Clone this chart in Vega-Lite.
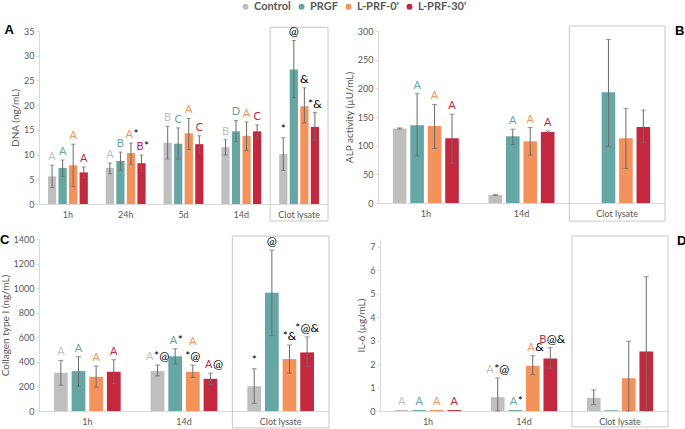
{
 "$schema": "https://vega.github.io/schema/vega-lite/v6.json",
 "padding": {"left": 0, "top": 1, "right": 0, "bottom": 0},
 "datasets": {
  "dna": [
   {"group":"1h","series":"Control","v":5.6,"lo":3.35,"hi":7.85,"letter":"A","sym":""},
   {"group":"1h","series":"PRGF","v":7.3,"lo":5.6,"hi":8.9,"letter":"A","sym":""},
   {"group":"1h","series":"L-PRF-0'","v":7.85,"lo":3.5,"hi":12.1,"letter":"A","sym":""},
   {"group":"1h","series":"L-PRF-30'","v":6.4,"lo":5.3,"hi":7.5,"letter":"A","sym":""},
   {"group":"24h","series":"Control","v":7.3,"lo":6.1,"hi":8.3,"letter":"A","sym":""},
   {"group":"24h","series":"PRGF","v":8.7,"lo":6.8,"hi":10.5,"letter":"B","sym":""},
   {"group":"24h","series":"L-PRF-0'","v":10.3,"lo":8.05,"hi":12.3,"letter":"A","sym":"*"},
   {"group":"24h","series":"L-PRF-30'","v":8.25,"lo":6.6,"hi":9.9,"letter":"B","sym":"*"},
   {"group":"5d","series":"Control","v":12.4,"lo":9.1,"hi":15.7,"letter":"B","sym":""},
   {"group":"5d","series":"PRGF","v":12.2,"lo":9.1,"hi":15.4,"letter":"C","sym":""},
   {"group":"5d","series":"L-PRF-0'","v":14.3,"lo":11.0,"hi":17.3,"letter":"A","sym":""},
   {"group":"5d","series":"L-PRF-30'","v":12.1,"lo":10.2,"hi":13.8,"letter":"C","sym":""},
   {"group":"14d","series":"Control","v":11.5,"lo":9.9,"hi":13.0,"letter":"B","sym":""},
   {"group":"14d","series":"PRGF","v":14.7,"lo":12.6,"hi":16.9,"letter":"D","sym":""},
   {"group":"14d","series":"L-PRF-0'","v":13.8,"lo":10.8,"hi":16.6,"letter":"A","sym":""},
   {"group":"14d","series":"L-PRF-30'","v":14.7,"lo":13.3,"hi":16.0,"letter":"C","sym":""},
   {"group":"Clot lysate","series":"Control","v":10.1,"lo":6.8,"hi":13.4,"letter":"","sym":"*"},
   {"group":"Clot lysate","series":"PRGF","v":27.2,"lo":21.5,"hi":33.1,"letter":"","sym":"@"},
   {"group":"Clot lysate","series":"L-PRF-0'","v":19.8,"lo":16.4,"hi":23.5,"letter":"","sym":"&"},
   {"group":"Clot lysate","series":"L-PRF-30'","v":15.6,"lo":12.9,"hi":18.5,"letter":"","sym":"*&"}
  ],
  "alp": [
   {"group":"1h","series":"Control","v":130,"lo":129,"hi":131,"letter":"","sym":""},
   {"group":"1h","series":"PRGF","v":135.7,"lo":82,"hi":190.6,"letter":"A","sym":""},
   {"group":"1h","series":"L-PRF-0'","v":134.5,"lo":95.3,"hi":172,"letter":"A","sym":""},
   {"group":"1h","series":"L-PRF-30'","v":112.9,"lo":69.6,"hi":155,"letter":"A","sym":""},
   {"group":"14d","series":"Control","v":14,"lo":13,"hi":15,"letter":"","sym":""},
   {"group":"14d","series":"PRGF","v":116.4,"lo":101.8,"hi":128.7,"letter":"A","sym":""},
   {"group":"14d","series":"L-PRF-0'","v":107.6,"lo":83.6,"hi":131.6,"letter":"A","sym":""},
   {"group":"14d","series":"L-PRF-30'","v":124,"lo":122.2,"hi":125.7,"letter":"A","sym":""},
   {"group":"Clot lysate","series":"PRGF","v":193,"lo":98.2,"hi":285.4,"letter":"","sym":""},
   {"group":"Clot lysate","series":"L-PRF-0'","v":112.9,"lo":60.2,"hi":165,"letter":"","sym":""},
   {"group":"Clot lysate","series":"L-PRF-30'","v":132.7,"lo":105.3,"hi":162,"letter":"","sym":""}
  ],
  "col": [
   {"group":"1h","series":"Control","v":311,"lo":210,"hi":412,"letter":"A","sym":""},
   {"group":"1h","series":"PRGF","v":325,"lo":202,"hi":442,"letter":"A","sym":""},
   {"group":"1h","series":"L-PRF-0'","v":278,"lo":194,"hi":366,"letter":"A","sym":""},
   {"group":"1h","series":"L-PRF-30'","v":319,"lo":224,"hi":417,"letter":"A","sym":""},
   {"group":"14d","series":"Control","v":325,"lo":286,"hi":374,"letter":"A","sym":"*@"},
   {"group":"14d","series":"PRGF","v":445,"lo":382,"hi":507,"letter":"A","sym":"*"},
   {"group":"14d","series":"L-PRF-0'","v":319,"lo":273,"hi":374,"letter":"A","sym":"*@"},
   {"group":"14d","series":"L-PRF-30'","v":262,"lo":213,"hi":308,"letter":"A","sym":"@"},
   {"group":"Clot lysate","series":"Control","v":202,"lo":63,"hi":344,"letter":"","sym":"*"},
   {"group":"Clot lysate","series":"PRGF","v":963,"lo":614,"hi":1310,"letter":"","sym":"@"},
   {"group":"Clot lysate","series":"L-PRF-0'","v":423,"lo":308,"hi":537,"letter":"","sym":"*&"},
   {"group":"Clot lysate","series":"L-PRF-30'","v":477,"lo":360,"hi":603,"letter":"","sym":"*@&"}
  ],
  "il6": [
   {"group":"1h","series":"Control","v":0.04,"lo":0.04,"hi":0.04,"letter":"A","sym":""},
   {"group":"1h","series":"PRGF","v":0.04,"lo":0.04,"hi":0.04,"letter":"A","sym":""},
   {"group":"1h","series":"L-PRF-0'","v":0.04,"lo":0.04,"hi":0.04,"letter":"A","sym":""},
   {"group":"1h","series":"L-PRF-30'","v":0.04,"lo":0.04,"hi":0.04,"letter":"A","sym":""},
   {"group":"14d","series":"Control","v":0.59,"lo":0,"hi":1.41,"letter":"A","sym":"*@"},
   {"group":"14d","series":"PRGF","v":0.04,"lo":0.04,"hi":0.04,"letter":"A","sym":"*"},
   {"group":"14d","series":"L-PRF-0'","v":1.93,"lo":1.55,"hi":2.36,"letter":"A","sym":"&"},
   {"group":"14d","series":"L-PRF-30'","v":2.24,"lo":1.83,"hi":2.7,"letter":"B","sym":"@&"},
   {"group":"Clot lysate","series":"Control","v":0.56,"lo":0.27,"hi":0.9,"letter":"","sym":""},
   {"group":"Clot lysate","series":"PRGF","v":0.03,"lo":0.03,"hi":0.03,"letter":"","sym":""},
   {"group":"Clot lysate","series":"L-PRF-0'","v":1.4,"lo":0,"hi":2.98,"letter":"","sym":""},
   {"group":"Clot lysate","series":"L-PRF-30'","v":2.54,"lo":0,"hi":5.73,"letter":"","sym":""}
  ]
 },
 "resolve": {"scale": {"color": "shared", "xOffset": "independent"}, "legend": {"color": "shared"}},
 "spacing": 12,
 "vconcat": [
  {"spacing": 15, "resolve": {"scale": {"color": "shared", "xOffset": "independent"}, "legend": {"color": "shared"}},
   "hconcat": [
   {"width": 289, "height": 173,
    "title": {"text": "A", "anchor": "start", "frame": "bounds", "offset": -11.5, "dx": -6},
    "data": {"name": "dna"},
    "encoding": {"x": {"field": "group", "type": "nominal", "sort": ["1h","24h","5d","14d","Clot lysate"], "scale": {"paddingInner": 0, "paddingOuter": 0}, "axis": {"title": null, "labelAngle": 0}}},
    "layer": [
     {"mark": {"type": "bar"},
      "encoding": {"xOffset": {"field": "series", "type": "nominal", "scale": {"domain": ["Control","PRGF","L-PRF-0'","L-PRF-30'"], "paddingInner": 0.22, "paddingOuter": 0.85}},
       "y": {"field": "v", "type": "quantitative", "scale": {"domain": [0, 35]}, "axis": {"title": "DNA (ng/mL)", "values": [0,5,10,15,20,25,30,35]}},
       "color": {"field": "series", "type": "nominal", "scale": {"domain": ["Control","PRGF","L-PRF-0'","L-PRF-30'"], "range": ["#bfbfbf","#66a6a3","#f4925c","#c3283e"]}}}},
     {"data": {"values": [{"group": "Clot lysate"}]}, "mark": {"type": "rect", "fillOpacity": 0, "stroke": "#c8c8c8", "strokeWidth": 1},
      "encoding": {"y": {"datum": 35.75, "type": "quantitative", "scale": {"domain": [0, 35]}, "axis": {"title": "DNA (ng/mL)", "values": [0,5,10,15,20,25,30,35]}}, "y2": {"datum": -3.43}}},
     {"transform": [{"filter": "datum.hi > datum.lo"}], "mark": {"type": "rule", "color": "#6b6b6b"},
      "encoding": {"xOffset": {"field": "series", "type": "nominal"}, "y": {"field": "lo", "type": "quantitative", "scale": {"domain": [0, 35]}, "axis": {"title": "DNA (ng/mL)", "values": [0,5,10,15,20,25,30,35]}}, "y2": {"field": "hi"}}},
     {"transform": [{"filter": "datum.hi > datum.lo"}], "mark": {"type": "tick", "color": "#6b6b6b", "size": 4, "thickness": 1},
      "encoding": {"xOffset": {"field": "series", "type": "nominal"}, "y": {"field": "lo", "type": "quantitative", "scale": {"domain": [0, 35]}, "axis": {"title": "DNA (ng/mL)", "values": [0,5,10,15,20,25,30,35]}}}},
     {"transform": [{"filter": "datum.hi > datum.lo"}], "mark": {"type": "tick", "color": "#6b6b6b", "size": 4, "thickness": 1},
      "encoding": {"xOffset": {"field": "series", "type": "nominal"}, "y": {"field": "hi", "type": "quantitative", "scale": {"domain": [0, 35]}, "axis": {"title": "DNA (ng/mL)", "values": [0,5,10,15,20,25,30,35]}}}},
     {"transform": [{"filter": "datum.letter != '' && datum.sym == ''"}], "mark": {"type": "text", "baseline": "middle", "dy": -8},
      "encoding": {"xOffset": {"field": "series", "type": "nominal"}, "y": {"field": "hi", "type": "quantitative", "scale": {"domain": [0, 35]}, "axis": {"title": "DNA (ng/mL)", "values": [0,5,10,15,20,25,30,35]}}, "text": {"field": "letter"},
       "color": {"field": "series", "type": "nominal", "scale": {"domain": ["Control","PRGF","L-PRF-0'","L-PRF-30'"], "range": ["#bfbfbf","#66a6a3","#f4925c","#c3283e"]}}}},
     {"transform": [{"filter": "datum.letter != '' && datum.sym != ''"}], "mark": {"type": "text", "baseline": "middle", "dy": -8, "align": "right", "dx": 2},
      "encoding": {"xOffset": {"field": "series", "type": "nominal"}, "y": {"field": "hi", "type": "quantitative", "scale": {"domain": [0, 35]}, "axis": {"title": "DNA (ng/mL)", "values": [0,5,10,15,20,25,30,35]}}, "text": {"field": "letter"},
       "color": {"field": "series", "type": "nominal", "scale": {"domain": ["Control","PRGF","L-PRF-0'","L-PRF-30'"], "range": ["#bfbfbf","#66a6a3","#f4925c","#c3283e"]}}}},
     {"transform": [{"filter": "datum.letter != '' && datum.sym != ''"}], "mark": {"type": "text", "baseline": "middle", "dy": -9, "align": "left", "dx": 2.5, "color": "#000", "fontSize": 12},
      "encoding": {"xOffset": {"field": "series", "type": "nominal"}, "y": {"field": "hi", "type": "quantitative", "scale": {"domain": [0, 35]}, "axis": {"title": "DNA (ng/mL)", "values": [0,5,10,15,20,25,30,35]}}, "text": {"field": "sym"}}},
     {"transform": [{"filter": "datum.letter == '' && datum.sym != ''"}], "mark": {"type": "text", "baseline": "middle", "dy": -9, "color": "#000", "fontSize": 12},
      "encoding": {"xOffset": {"field": "series", "type": "nominal"}, "y": {"field": "hi", "type": "quantitative", "scale": {"domain": [0, 35]}, "axis": {"title": "DNA (ng/mL)", "values": [0,5,10,15,20,25,30,35]}}, "text": {"field": "sym"}}}
    ]},
   {"width": 287, "height": 172,
    "title": {"text": "B", "anchor": "end", "frame": "bounds", "offset": -13, "dx": 19},
    "data": {"name": "alp"},
    "encoding": {"x": {"field": "group", "type": "nominal", "sort": ["1h","14d","Clot lysate"], "scale": {"paddingInner": 0, "paddingOuter": 0}, "axis": {"title": null, "labelAngle": 0}}},
    "layer": [
     {"mark": {"type": "bar"},
      "encoding": {"xOffset": {"field": "series", "type": "nominal", "scale": {"domain": ["Control","PRGF","L-PRF-0'","L-PRF-30'"], "paddingInner": 0.22, "paddingOuter": 0.85}},
       "y": {"field": "v", "type": "quantitative", "scale": {"domain": [0, 300]}, "axis": {"title": "ALP activity (µU/mL)", "values": [0,50,100,150,200,250,300]}},
       "color": {"field": "series", "type": "nominal", "scale": {"domain": ["Control","PRGF","L-PRF-0'","L-PRF-30'"], "range": ["#bfbfbf","#66a6a3","#f4925c","#c3283e"]}}}},
     {"data": {"values": [{"group": "Clot lysate"}]}, "mark": {"type": "rect", "fillOpacity": 0, "stroke": "#c8c8c8", "strokeWidth": 1},
      "encoding": {"y": {"datum": 308.8, "type": "quantitative", "scale": {"domain": [0, 300]}, "axis": {"title": "ALP activity (µU/mL)", "values": [0,50,100,150,200,250,300]}}, "y2": {"datum": -31.6}}},
     {"transform": [{"filter": "datum.hi > datum.lo"}], "mark": {"type": "rule", "color": "#6b6b6b"},
      "encoding": {"xOffset": {"field": "series", "type": "nominal"}, "y": {"field": "lo", "type": "quantitative", "scale": {"domain": [0, 300]}, "axis": {"title": "ALP activity (µU/mL)", "values": [0,50,100,150,200,250,300]}}, "y2": {"field": "hi"}}},
     {"transform": [{"filter": "datum.hi > datum.lo"}], "mark": {"type": "tick", "color": "#6b6b6b", "size": 5, "thickness": 1},
      "encoding": {"xOffset": {"field": "series", "type": "nominal"}, "y": {"field": "lo", "type": "quantitative", "scale": {"domain": [0, 300]}, "axis": {"title": "ALP activity (µU/mL)", "values": [0,50,100,150,200,250,300]}}}},
     {"transform": [{"filter": "datum.hi > datum.lo"}], "mark": {"type": "tick", "color": "#6b6b6b", "size": 5, "thickness": 1},
      "encoding": {"xOffset": {"field": "series", "type": "nominal"}, "y": {"field": "hi", "type": "quantitative", "scale": {"domain": [0, 300]}, "axis": {"title": "ALP activity (µU/mL)", "values": [0,50,100,150,200,250,300]}}}},
     {"transform": [{"filter": "datum.letter != ''"}], "mark": {"type": "text", "baseline": "middle", "dy": -8},
      "encoding": {"xOffset": {"field": "series", "type": "nominal"}, "y": {"field": "hi", "type": "quantitative", "scale": {"domain": [0, 300]}, "axis": {"title": "ALP activity (µU/mL)", "values": [0,50,100,150,200,250,300]}}, "text": {"field": "letter"},
       "color": {"field": "series", "type": "nominal", "scale": {"domain": ["Control","PRGF","L-PRF-0'","L-PRF-30'"], "range": ["#bfbfbf","#66a6a3","#f4925c","#c3283e"]}}}}
    ]}
  ]},
  {"spacing": 26, "resolve": {"scale": {"color": "shared", "xOffset": "independent"}, "legend": {"color": "shared"}},
   "hconcat": [
   {"width": 290, "height": 172,
    "title": {"text": "C", "anchor": "start", "frame": "bounds", "offset": -12},
    "data": {"name": "col"},
    "encoding": {"x": {"field": "group", "type": "nominal", "sort": ["1h","14d","Clot lysate"], "scale": {"paddingInner": 0, "paddingOuter": 0}, "axis": {"title": null, "labelAngle": 0}}},
    "layer": [
     {"mark": {"type": "bar"},
      "encoding": {"xOffset": {"field": "series", "type": "nominal", "scale": {"domain": ["Control","PRGF","L-PRF-0'","L-PRF-30'"], "paddingInner": 0.22, "paddingOuter": 0.85}},
       "y": {"field": "v", "type": "quantitative", "scale": {"domain": [0, 1400]}, "axis": {"title": "Collagen type I (ng/mL)", "values": [0,200,400,600,800,1000,1200,1400]}},
       "color": {"field": "series", "type": "nominal", "scale": {"domain": ["Control","PRGF","L-PRF-0'","L-PRF-30'"], "range": ["#bfbfbf","#66a6a3","#f4925c","#c3283e"]}}}},
     {"data": {"values": [{"group": "Clot lysate"}]}, "mark": {"type": "rect", "fillOpacity": 0, "stroke": "#c8c8c8", "strokeWidth": 1},
      "encoding": {"y": {"datum": 1424, "type": "quantitative", "scale": {"domain": [0, 1400]}, "axis": {"title": "Collagen type I (ng/mL)", "values": [0,200,400,600,800,1000,1200,1400]}}, "y2": {"datum": -138}}},
     {"transform": [{"filter": "datum.hi > datum.lo"}], "mark": {"type": "rule", "color": "#6b6b6b"},
      "encoding": {"xOffset": {"field": "series", "type": "nominal"}, "y": {"field": "lo", "type": "quantitative", "scale": {"domain": [0, 1400]}, "axis": {"title": "Collagen type I (ng/mL)", "values": [0,200,400,600,800,1000,1200,1400]}}, "y2": {"field": "hi"}}},
     {"transform": [{"filter": "datum.hi > datum.lo"}], "mark": {"type": "tick", "color": "#6b6b6b", "size": 5, "thickness": 1},
      "encoding": {"xOffset": {"field": "series", "type": "nominal"}, "y": {"field": "lo", "type": "quantitative", "scale": {"domain": [0, 1400]}, "axis": {"title": "Collagen type I (ng/mL)", "values": [0,200,400,600,800,1000,1200,1400]}}}},
     {"transform": [{"filter": "datum.hi > datum.lo"}], "mark": {"type": "tick", "color": "#6b6b6b", "size": 5, "thickness": 1},
      "encoding": {"xOffset": {"field": "series", "type": "nominal"}, "y": {"field": "hi", "type": "quantitative", "scale": {"domain": [0, 1400]}, "axis": {"title": "Collagen type I (ng/mL)", "values": [0,200,400,600,800,1000,1200,1400]}}}},
     {"transform": [{"filter": "datum.letter != '' && datum.sym == ''"}], "mark": {"type": "text", "baseline": "middle", "dy": -8},
      "encoding": {"xOffset": {"field": "series", "type": "nominal"}, "y": {"field": "hi", "type": "quantitative", "scale": {"domain": [0, 1400]}, "axis": {"title": "Collagen type I (ng/mL)", "values": [0,200,400,600,800,1000,1200,1400]}}, "text": {"field": "letter"},
       "color": {"field": "series", "type": "nominal", "scale": {"domain": ["Control","PRGF","L-PRF-0'","L-PRF-30'"], "range": ["#bfbfbf","#66a6a3","#f4925c","#c3283e"]}}}},
     {"transform": [{"filter": "datum.letter != '' && length(datum.sym) == 1"}], "mark": {"type": "text", "baseline": "middle", "dy": -8, "align": "right", "dx": 2},
      "encoding": {"xOffset": {"field": "series", "type": "nominal"}, "y": {"field": "hi", "type": "quantitative", "scale": {"domain": [0, 1400]}, "axis": {"title": "Collagen type I (ng/mL)", "values": [0,200,400,600,800,1000,1200,1400]}}, "text": {"field": "letter"},
       "color": {"field": "series", "type": "nominal", "scale": {"domain": ["Control","PRGF","L-PRF-0'","L-PRF-30'"], "range": ["#bfbfbf","#66a6a3","#f4925c","#c3283e"]}}}},
     {"transform": [{"filter": "datum.letter != '' && length(datum.sym) == 1"}], "mark": {"type": "text", "baseline": "middle", "dy": -9, "align": "left", "dx": 2.5, "color": "#000", "fontSize": 12},
      "encoding": {"xOffset": {"field": "series", "type": "nominal"}, "y": {"field": "hi", "type": "quantitative", "scale": {"domain": [0, 1400]}, "axis": {"title": "Collagen type I (ng/mL)", "values": [0,200,400,600,800,1000,1200,1400]}}, "text": {"field": "sym"}}},
     {"transform": [{"filter": "datum.letter != '' && length(datum.sym) == 2 && !(datum.group == '14d' && datum.series == \"L-PRF-0'\")"}], "mark": {"type": "text", "baseline": "middle", "dy": -8, "align": "right", "dx": -4},
      "encoding": {"xOffset": {"field": "series", "type": "nominal"}, "y": {"field": "hi", "type": "quantitative", "scale": {"domain": [0, 1400]}, "axis": {"title": "Collagen type I (ng/mL)", "values": [0,200,400,600,800,1000,1200,1400]}}, "text": {"field": "letter"},
       "color": {"field": "series", "type": "nominal", "scale": {"domain": ["Control","PRGF","L-PRF-0'","L-PRF-30'"], "range": ["#bfbfbf","#66a6a3","#f4925c","#c3283e"]}}}},
     {"transform": [{"filter": "datum.letter != '' && length(datum.sym) == 2 && !(datum.group == '14d' && datum.series == \"L-PRF-0'\")"}], "mark": {"type": "text", "baseline": "middle", "dy": -9, "align": "left", "dx": -3.5, "color": "#000", "fontSize": 12},
      "encoding": {"xOffset": {"field": "series", "type": "nominal"}, "y": {"field": "hi", "type": "quantitative", "scale": {"domain": [0, 1400]}, "axis": {"title": "Collagen type I (ng/mL)", "values": [0,200,400,600,800,1000,1200,1400]}}, "text": {"field": "sym"}}},
     {"transform": [{"filter": "datum.group == '14d' && datum.series == \"L-PRF-0'\""}], "mark": {"type": "text", "baseline": "middle", "dy": -23},
      "encoding": {"xOffset": {"field": "series", "type": "nominal"}, "y": {"field": "hi", "type": "quantitative", "scale": {"domain": [0, 1400]}, "axis": {"title": "Collagen type I (ng/mL)", "values": [0,200,400,600,800,1000,1200,1400]}}, "text": {"field": "letter"},
       "color": {"field": "series", "type": "nominal", "scale": {"domain": ["Control","PRGF","L-PRF-0'","L-PRF-30'"], "range": ["#bfbfbf","#66a6a3","#f4925c","#c3283e"]}}}},
     {"transform": [{"filter": "(datum.letter == '' && datum.sym != '') || (datum.group == '14d' && datum.series == \"L-PRF-0'\")"}], "mark": {"type": "text", "baseline": "middle", "dy": -9, "color": "#000", "fontSize": 12},
      "encoding": {"xOffset": {"field": "series", "type": "nominal"}, "y": {"field": "hi", "type": "quantitative", "scale": {"domain": [0, 1400]}, "axis": {"title": "Collagen type I (ng/mL)", "values": [0,200,400,600,800,1000,1200,1400]}}, "text": {"field": "sym"}}}
    ]},
   {"width": 288, "height": 172,
    "title": {"text": "D", "anchor": "end", "frame": "bounds", "offset": -13, "dx": 18},
    "data": {"name": "il6"},
    "encoding": {"x": {"field": "group", "type": "nominal", "sort": ["1h","14d","Clot lysate"], "scale": {"paddingInner": 0, "paddingOuter": 0}, "axis": {"title": null, "labelAngle": 0}}},
    "layer": [
     {"mark": {"type": "bar"},
      "encoding": {"xOffset": {"field": "series", "type": "nominal", "scale": {"domain": ["Control","PRGF","L-PRF-0'","L-PRF-30'"], "paddingInner": 0.22, "paddingOuter": 0.85}},
       "y": {"field": "v", "type": "quantitative", "scale": {"domain": [0, 7.34]}, "axis": {"title": "IL-6 (µg/mL)", "values": [0,1,2,3,4,5,6,7]}},
       "color": {"field": "series", "type": "nominal", "scale": {"domain": ["Control","PRGF","L-PRF-0'","L-PRF-30'"], "range": ["#bfbfbf","#66a6a3","#f4925c","#c3283e"]}}}},
     {"data": {"values": [{"group": "Clot lysate"}]}, "mark": {"type": "rect", "fillOpacity": 0, "stroke": "#c8c8c8", "strokeWidth": 1},
      "encoding": {"y": {"datum": 7.47, "type": "quantitative", "scale": {"domain": [0, 7.34]}, "axis": {"title": "IL-6 (µg/mL)", "values": [0,1,2,3,4,5,6,7]}}, "y2": {"datum": -0.68}}},
     {"transform": [{"filter": "datum.hi > datum.lo"}], "mark": {"type": "rule", "color": "#6b6b6b"},
      "encoding": {"xOffset": {"field": "series", "type": "nominal"}, "y": {"field": "lo", "type": "quantitative", "scale": {"domain": [0, 7.34]}, "axis": {"title": "IL-6 (µg/mL)", "values": [0,1,2,3,4,5,6,7]}}, "y2": {"field": "hi"}}},
     {"transform": [{"filter": "datum.hi > datum.lo"}], "mark": {"type": "tick", "color": "#6b6b6b", "size": 5, "thickness": 1},
      "encoding": {"xOffset": {"field": "series", "type": "nominal"}, "y": {"field": "lo", "type": "quantitative", "scale": {"domain": [0, 7.34]}, "axis": {"title": "IL-6 (µg/mL)", "values": [0,1,2,3,4,5,6,7]}}}},
     {"transform": [{"filter": "datum.hi > datum.lo"}], "mark": {"type": "tick", "color": "#6b6b6b", "size": 5, "thickness": 1},
      "encoding": {"xOffset": {"field": "series", "type": "nominal"}, "y": {"field": "hi", "type": "quantitative", "scale": {"domain": [0, 7.34]}, "axis": {"title": "IL-6 (µg/mL)", "values": [0,1,2,3,4,5,6,7]}}}},
     {"transform": [{"filter": "datum.letter != '' && datum.sym == ''"}], "mark": {"type": "text", "baseline": "middle", "dy": -8},
      "encoding": {"xOffset": {"field": "series", "type": "nominal"}, "y": {"field": "hi", "type": "quantitative", "scale": {"domain": [0, 7.34]}, "axis": {"title": "IL-6 (µg/mL)", "values": [0,1,2,3,4,5,6,7]}}, "text": {"field": "letter"},
       "color": {"field": "series", "type": "nominal", "scale": {"domain": ["Control","PRGF","L-PRF-0'","L-PRF-30'"], "range": ["#bfbfbf","#66a6a3","#f4925c","#c3283e"]}}}},
     {"transform": [{"filter": "datum.letter != '' && length(datum.sym) == 1"}], "mark": {"type": "text", "baseline": "middle", "dy": -8, "align": "right", "dx": 2},
      "encoding": {"xOffset": {"field": "series", "type": "nominal"}, "y": {"field": "hi", "type": "quantitative", "scale": {"domain": [0, 7.34]}, "axis": {"title": "IL-6 (µg/mL)", "values": [0,1,2,3,4,5,6,7]}}, "text": {"field": "letter"},
       "color": {"field": "series", "type": "nominal", "scale": {"domain": ["Control","PRGF","L-PRF-0'","L-PRF-30'"], "range": ["#bfbfbf","#66a6a3","#f4925c","#c3283e"]}}}},
     {"transform": [{"filter": "datum.letter != '' && length(datum.sym) == 1"}], "mark": {"type": "text", "baseline": "middle", "dy": -9, "align": "left", "dx": 2.5, "color": "#000", "fontSize": 12},
      "encoding": {"xOffset": {"field": "series", "type": "nominal"}, "y": {"field": "hi", "type": "quantitative", "scale": {"domain": [0, 7.34]}, "axis": {"title": "IL-6 (µg/mL)", "values": [0,1,2,3,4,5,6,7]}}, "text": {"field": "sym"}}},
     {"transform": [{"filter": "datum.letter != '' && length(datum.sym) == 2"}], "mark": {"type": "text", "baseline": "middle", "dy": -8, "align": "right", "dx": -4},
      "encoding": {"xOffset": {"field": "series", "type": "nominal"}, "y": {"field": "hi", "type": "quantitative", "scale": {"domain": [0, 7.34]}, "axis": {"title": "IL-6 (µg/mL)", "values": [0,1,2,3,4,5,6,7]}}, "text": {"field": "letter"},
       "color": {"field": "series", "type": "nominal", "scale": {"domain": ["Control","PRGF","L-PRF-0'","L-PRF-30'"], "range": ["#bfbfbf","#66a6a3","#f4925c","#c3283e"]}}}},
     {"transform": [{"filter": "datum.letter != '' && length(datum.sym) == 2"}], "mark": {"type": "text", "baseline": "middle", "dy": -9, "align": "left", "dx": -3.5, "color": "#000", "fontSize": 12},
      "encoding": {"xOffset": {"field": "series", "type": "nominal"}, "y": {"field": "hi", "type": "quantitative", "scale": {"domain": [0, 7.34]}, "axis": {"title": "IL-6 (µg/mL)", "values": [0,1,2,3,4,5,6,7]}}, "text": {"field": "sym"}}}
    ]}
  ]}
 ],
 "config": {
  "view": {"stroke": null},
  "font": "Lato",
  "text": {"font": "Lato", "fontSize": 11},
  "axis": {"labelFont": "Lato", "labelFontSize": 9, "labelColor": "#595959", "titleFont": "Lato", "titleFontSize": 10, "titleFontWeight": "normal", "titleColor": "#595959", "domainColor": "#d9d9d9", "tickColor": "#d9d9d9", "grid": false, "labelOverlap": false},
  "axisX": {"ticks": false, "labelPadding": 6},
  "axisY": {"tickSize": 3, "format": "d", "titlePadding": 3},
  "legend": {"orient": "none", "legendX": 201, "legendY": -30, "direction": "horizontal", "title": null, "symbolType": "circle", "symbolSize": 36, "symbolStrokeWidth": 0, "labelFont": "Lato", "labelFontSize": 11, "labelFontWeight": "bold", "labelColor": "#595959", "columnPadding": 5, "labelOffset": 3},
  "title": {"font": "Liberation Sans", "fontSize": 13, "fontWeight": "bold", "color": "#000"}
 }
}
